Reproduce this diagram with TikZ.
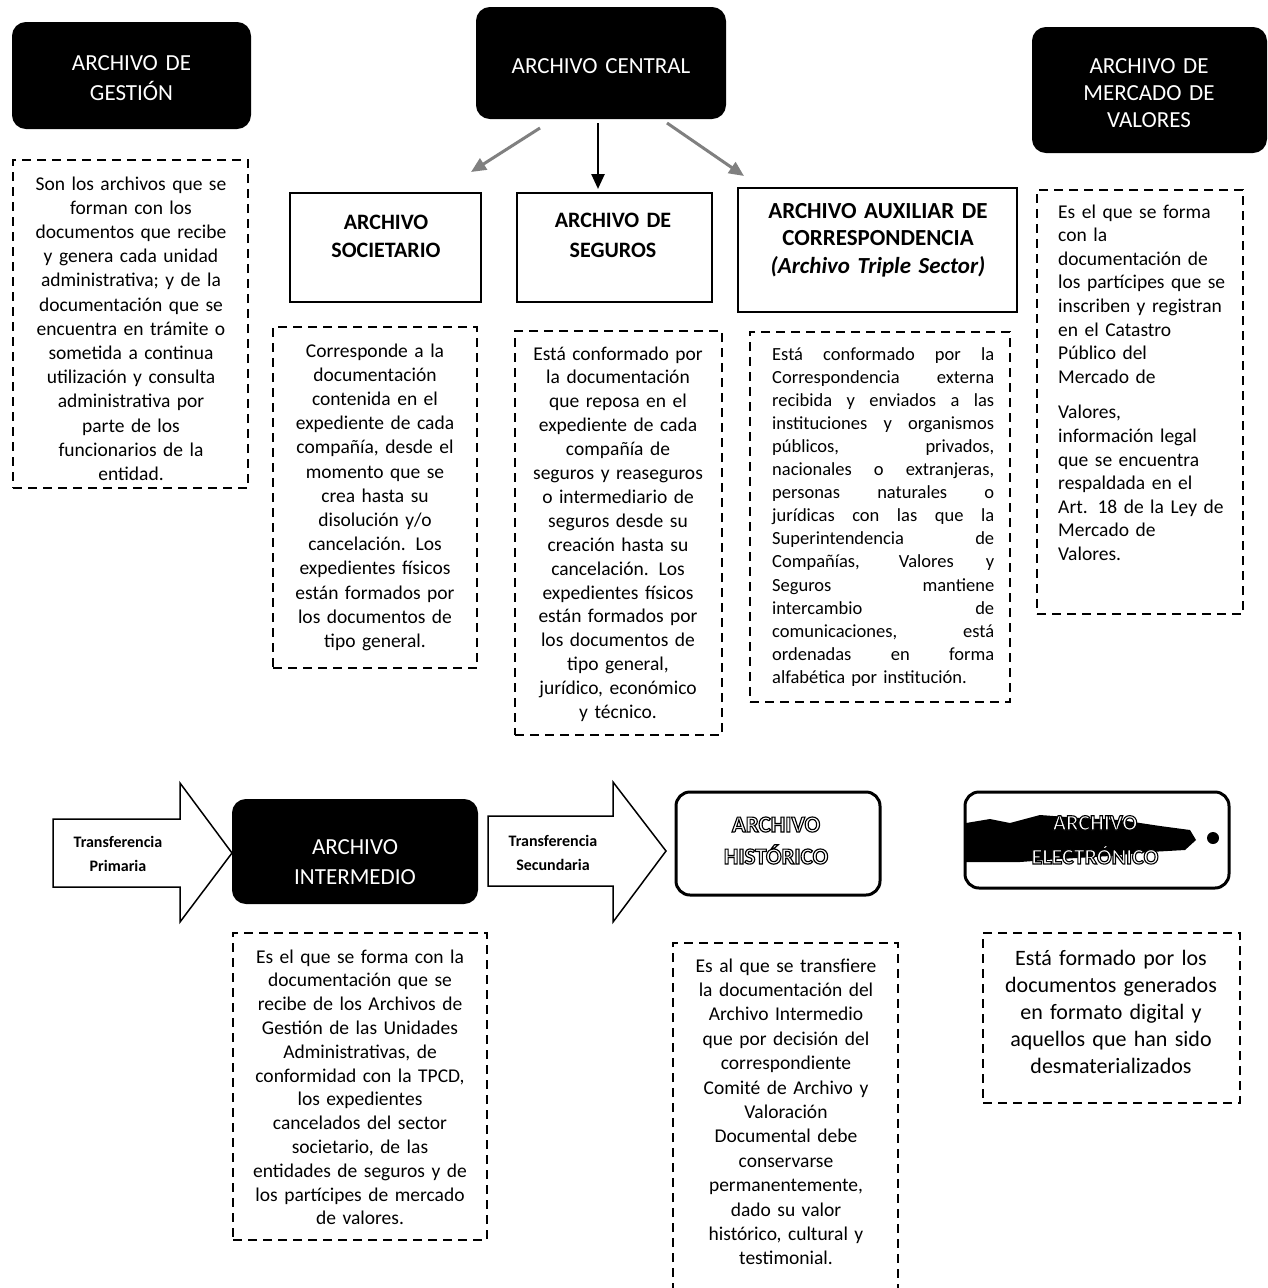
\documentclass[tikz,border=0pt]{standalone}
\usepackage{fontspec}
\setmainfont{Carlito}
\newfontfamily\holfont[FakeBold=5, UprightFont={* Bold}]{Carlito}
\usetikzlibrary{arrows.meta}
\newcommand{\jl}[1]{\leavevmode\hbox to 222pt{\spaceskip=4.5pt plus 1fil\relax #1}}
\newcommand{\hol}[1]{{\color{white}\special{pdf:literal direct 0 G}\holfont #1}}
\begin{document}
\begin{tikzpicture}[x=1pt,y=-1pt,
  blackbox/.style={draw=black, fill=black, line width=2pt, rounded corners=13pt, inner sep=0pt},
  whitetitle/.style={text width=240pt, align=center, inner sep=0pt, text=white, anchor=base, font=\fontsize{23}{30}\selectfont},
  whitebox/.style={draw=black, fill=white, line width=2pt, inner sep=0pt},
  roundbox/.style={draw=black, fill=white, line width=3pt, rounded corners=14pt, inner sep=0pt},
  dashbox/.style={draw=black, line width=2pt, dash pattern=on 9pt off 6pt, inner sep=0pt},
  bodytext/.style={text width=250pt, align=center, inner sep=0pt, anchor=base, font=\fontsize{19.5}{24.2}\selectfont},
  lefttext/.style={align=left, inner sep=0pt, anchor=base west},
  titletext/.style={text width=270pt, align=center, inner sep=0pt, anchor=base, font=\bfseries\fontsize{22}{29}\selectfont},
  hollow/.style={text width=260pt, align=center, inner sep=0pt, anchor=base, font=\fontsize{23}{32}\selectfont},
  blockarrow/.style={draw=black, fill=white, line width=1.5pt, line join=miter},
  arrowtext/.style={align=center, inner sep=0pt, font=\bfseries\fontsize{16}{24}\selectfont},
  downarrow/.style={draw=black, line width=2.5pt, -{Triangle[length=15pt,width=13pt]}},
  diagarrow/.style={draw=black!50, line width=3pt, -{Triangle[length=15pt,width=13pt]}}
]
\useasboundingbox (0,0) rectangle (1268,1288);
\fill[white] (0,0) rectangle (1268,1288);

% ---------- top row: black boxes ----------
\node[blackbox, minimum width=237pt, minimum height=105pt] (gestion) at (131.5,75.5) {};
\node[whitetitle] (gestiont) at (131.5,70) {ARCHIVO DE\\GESTIÓN};

\node[blackbox, minimum width=248pt, minimum height=110pt] (central) at (601,63) {};
\node[whitetitle] (centralt) at (601,73) {ARCHIVO CENTRAL};

\node[blackbox, minimum width=233pt, minimum height=124pt] (mercado) at (1149.5,90) {};
\node[whitetitle, font=\fontsize{23}{27}\selectfont] (mercadot) at (1149,73) {ARCHIVO DE\\MERCADO DE\\VALORES};

% ---------- white title boxes ----------
\node[whitebox, minimum width=191pt, minimum height=109pt] (soc) at (385.5,247.5) {};
\node[titletext, font=\bfseries\fontsize{22}{28}\selectfont] (soct) at (386,229) {ARCHIVO\\SOCIETARIO};

\node[whitebox, minimum width=195pt, minimum height=109pt] (seg) at (614.5,247.5) {};
\node[titletext, font=\bfseries\fontsize{22}{30}\selectfont] (segt) at (613,227) {ARCHIVO DE\\SEGUROS};

\node[whitebox, minimum width=279pt, minimum height=124pt] (aux) at (877.5,250) {};
\node[titletext, font=\bfseries\fontsize{23}{27.5}\selectfont] (auxt) at (878,218) {ARCHIVO AUXILIAR DE\\CORRESPONDENCIA\\{\itshape (Archivo Triple Sector)}};

% ---------- arrows from central ----------
\draw[diagarrow] ([xshift=-61pt,yshift=-9pt]central.south) -- ([xshift=-11pt,yshift=20pt]soc.north east);
\draw[downarrow] ([xshift=-3pt,yshift=-4pt]central.south) -- ([xshift=-16.5pt,yshift=3pt]seg.north);
\draw[diagarrow] ([xshift=66pt,yshift=-4pt]central.south) -- ([xshift=7pt,yshift=11pt]aux.north west);

% ---------- dashed description boxes (upper) ----------
\node[dashbox, minimum width=235pt, minimum height=328pt] (gestd) at (130.5,324) {};
\node[bodytext] (gestdt) at (131,190) {Son los archivos que se\\forman con los\\documentos que recibe\\y genera cada unidad\\administrativa; y de la\\documentación que se\\encuentra en trámite o\\sometida a continua\\utilización y consulta\\administrativa por\\parte de los\\funcionarios de la\\entidad.};

\node[dashbox, minimum width=204pt, minimum height=341pt] (socd) at (375,497.5) {};
\node[bodytext] (socdt) at (375,357) {Corresponde a la\\documentación\\contenida en el\\expediente de cada\\compañía, desde el\\momento que se\\crea hasta su\\disolución y/o\\cancelación. Los\\expedientes físicos\\están formados por\\los documentos de\\tipo general.};

\node[dashbox, minimum width=207pt, minimum height=404pt] (segd) at (618.5,533) {};
\node[bodytext, font=\fontsize{19.5}{23.9}\selectfont] (segdt) at (618,360) {Está conformado por\\la documentación\\que reposa en el\\expediente de cada\\compañía de\\seguros y reaseguros\\o intermediario de\\seguros desde su\\creación hasta su\\cancelación. Los\\expedientes físicos\\están formados por\\los documentos de\\tipo general,\\jurídico, económico\\y técnico.};

\node[dashbox, minimum width=260pt, minimum height=370pt] (auxd) at (880,517) {};
\node[lefttext, text width=222pt, font=\fontsize{18.5}{23.1}\selectfont] (auxdt) at (772,360) {\jl{Está conformado por la}\\\jl{Correspondencia externa}\\\jl{recibida y enviados a las}\\\jl{instituciones y organismos}\\\jl{públicos, privados,}\\\jl{nacionales o extranjeras,}\\\jl{personas naturales o}\\\jl{jurídicas con las que la}\\\jl{Superintendencia de}\\\jl{Compañías, Valores y}\\\jl{Seguros mantiene}\\\jl{intercambio de}\\\jl{comunicaciones, está}\\\jl{ordenadas en forma}\\alfabética por institución.};

\node[dashbox, minimum width=206pt, minimum height=424pt] (mercd) at (1140,402) {};
\node[lefttext, text width=200pt, font=\fontsize{19.5}{23.6}\selectfont] (mercdt) at (1058,218) {Es el que se forma\\con la\\documentación de\\los partícipes que se\\inscriben y registran\\en el Catastro\\Público del\\Mercado de\\[12pt]Valores,\\información legal\\que se encuentra\\respaldada en el\\Art. 18 de la Ley de\\Mercado de\\Valores.};

% ---------- bottom row ----------
\draw[blockarrow] (53,819) -- (180,819) -- (180,783) -- (232,853) -- (180,922) -- (180,887) -- (53,887) -- cycle;
\node[arrowtext] (primt) at (118,854) {Transferencia\\Primaria};

\node[blackbox, minimum width=244pt, minimum height=103pt] (inter) at (355,851.5) {};
\node[whitetitle] (intert) at (355,854) {ARCHIVO\\INTERMEDIO};

\draw[blockarrow] (488,816) -- (613,816) -- (613,782) -- (666,851) -- (613,922) -- (613,886) -- (488,886) -- cycle;
\node[arrowtext] (secut) at (553,853) {Transferencia\\Secundaria};

\node[roundbox, minimum width=204pt, minimum height=103pt] (hist) at (778,843.5) {};
\node[hollow] (histt) at (776,832) {\hol{ARCHIVO}\\\hol{HISTÓRICO}};

\node[roundbox, minimum width=264pt, minimum height=96pt] (elec) at (1097,840) {};
\fill[black] (966,823) -- (990,819) -- (1010,823) -- (1040,815) -- (1080,818) -- (1120,820) -- (1160,826) -- (1190,830) -- (1196,840) -- (1185,850) -- (1150,852) -- (1110,856) -- (1060,859) -- (1020,862) -- (966,862) -- cycle;
\fill[black] (1213,838) circle (6pt);
\node[hollow, font=\fontsize{22}{34}\selectfont] (elect) at (1095,830) {\hol{ARCHIVO}\\\hol{ELECTRÓNICO}};

% ---------- dashed description boxes (lower) ----------
\node[dashbox, minimum width=254pt, minimum height=307pt] (interd) at (360,1086.5) {};
\node[bodytext, font=\fontsize{19.5}{23.8}\selectfont] (interdt) at (360,963) {Es el que se forma con la\\documentación que se\\recibe de los Archivos de\\Gestión de las Unidades\\Administrativas, de\\conformidad con la TPCD,\\los expedientes\\cancelados del sector\\societario, de las\\entidades de seguros y de\\los partícipes de mercado\\de valores.};

\draw[dashbox] (673,1292) |- (898,943) -- (898,1292);
\node[bodytext, font=\fontsize{19.5}{24.4}\selectfont] (histdt) at (786,972) {Es al que se transfiere\\la documentación del\\Archivo Intermedio\\que por decisión del\\correspondiente\\Comité de Archivo y\\Valoración\\Documental debe\\conservarse\\permanentemente,\\dado su valor\\histórico, cultural y\\testimonial.};

\node[dashbox, minimum width=257pt, minimum height=170pt] (electd) at (1111.5,1018) {};
\node[bodytext, font=\fontsize{22}{27}\selectfont] (electdt) at (1111,965) {Está formado por los\\documentos generados\\en formato digital y\\aquellos que han sido\\desmaterializados};
\end{tikzpicture}
\end{document}
